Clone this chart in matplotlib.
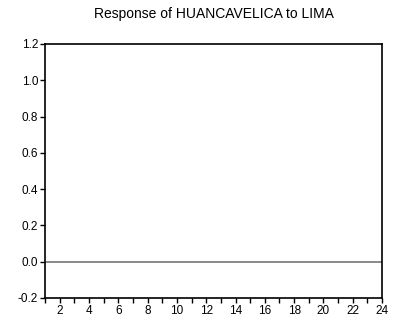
import matplotlib
matplotlib.use("Agg")
import matplotlib.pyplot as plt
import numpy as np

plt.rcParams['font.family'] = ['Liberation Sans', 'DejaVu Sans']

# impulse response of HUANCAVELICA to a LIMA shock (flat at zero)
periods = list(range(1, 25))
response = [0.0] * 24
y_ticks = [-0.2, 0.0, 0.2, 0.4, 0.6, 0.8, 1.0, 1.2]
x_labels = list(range(2, 25, 2))

fig = plt.figure(figsize=(4.03, 3.21), dpi=100)
ax = fig.add_axes([0.1117, 0.0717, 0.8363, 0.7913])

ax.plot(periods, response, color='#808080', linewidth=1.3)

ax.set_xlim(1, 24)
ax.set_ylim(-0.2, 1.2)
ax.set_xticks(periods, minor=True)
ax.set_xticks(x_labels)
ax.set_yticks(y_ticks)
ax.set_yticklabels(['%.1f' % v for v in y_ticks])

ax.tick_params(axis='both', which='both', direction='out', length=3.5, width=1,
               labelsize=8.5, colors='black')
ax.tick_params(axis='x', pad=1.5)
ax.tick_params(axis='y', pad=1.5)
for s in ax.spines.values():
    s.set_linewidth(1.2)

ax.set_title('Response of HUANCAVELICA to LIMA', fontsize=10, pad=19)

fig.savefig('out.png', dpi=100)
